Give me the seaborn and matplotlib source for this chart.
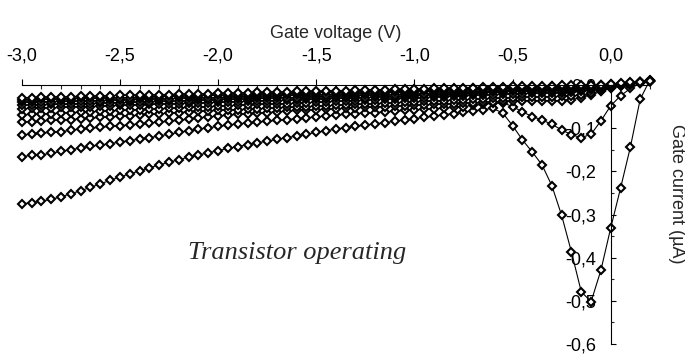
import matplotlib
matplotlib.use("Agg")
import matplotlib.pyplot as plt
import numpy as np
import pandas as pd
import seaborn as sns
from matplotlib.ticker import MultipleLocator, FuncFormatter

# gate voltage sweep (V), one marker every 0.05 V
v_gate = [-3.00, -2.95, -2.90, -2.85, -2.80, -2.75, -2.70, -2.65, -2.60, -2.55,
          -2.50, -2.45, -2.40, -2.35, -2.30, -2.25, -2.20, -2.15, -2.10, -2.05,
          -2.00, -1.95, -1.90, -1.85, -1.80, -1.75, -1.70, -1.65, -1.60, -1.55,
          -1.50, -1.45, -1.40, -1.35, -1.30, -1.25, -1.20, -1.15, -1.10, -1.05,
          -1.00, -0.95, -0.90, -0.85, -0.80, -0.75, -0.70, -0.65, -0.60, -0.55,
          -0.50, -0.45, -0.40, -0.35, -0.30, -0.25, -0.20, -0.15, -0.10, -0.05,
          0.00, 0.05, 0.10, 0.15, 0.20]

# gate current (uA), lowest curve first
ig_a = [-0.275, -0.273, -0.269, -0.265, -0.259, -0.252, -0.245, -0.237, -0.229, -0.221,
        -0.213, -0.206, -0.199, -0.192, -0.185, -0.179, -0.173, -0.167, -0.162, -0.157,
        -0.152, -0.147, -0.143, -0.138, -0.134, -0.130, -0.126, -0.122, -0.118, -0.114,
        -0.110, -0.106, -0.102, -0.099, -0.096, -0.093, -0.090, -0.087, -0.084, -0.081,
        -0.078, -0.075, -0.072, -0.069, -0.066, -0.063, -0.060, -0.057, -0.054, -0.065,
        -0.094, -0.127, -0.155, -0.185, -0.233, -0.302, -0.387, -0.479, -0.502, -0.429,
        -0.331, -0.239, -0.144, -0.033, 0.012]
ig_b = [-0.166, -0.163, -0.162, -0.158, -0.154, -0.150, -0.146, -0.142, -0.139, -0.136,
        -0.132, -0.129, -0.125, -0.122, -0.118, -0.114, -0.110, -0.106, -0.102, -0.099,
        -0.096, -0.093, -0.090, -0.088, -0.086, -0.084, -0.082, -0.080, -0.078, -0.076,
        -0.074, -0.072, -0.070, -0.068, -0.066, -0.065, -0.064, -0.062, -0.061, -0.059,
        -0.058, -0.056, -0.055, -0.053, -0.052, -0.050, -0.047, -0.045, -0.042, -0.041,
        -0.050, -0.062, -0.073, -0.081, -0.091, -0.104, -0.115, -0.122, -0.114, -0.083,
        -0.048, -0.025, -0.008, 0.004, 0.010]
ig_c = [-0.115, -0.114, -0.112, -0.109, -0.108, -0.105, -0.102, -0.100, -0.098, -0.096,
        -0.094, -0.092, -0.090, -0.088, -0.086, -0.084, -0.082, -0.079, -0.076, -0.074,
        -0.072, -0.070, -0.068, -0.067, -0.065, -0.064, -0.062, -0.061, -0.059, -0.058,
        -0.057, -0.056, -0.055, -0.054, -0.053, -0.052, -0.051, -0.050, -0.049, -0.048,
        -0.047, -0.046, -0.045, -0.044, -0.043, -0.042, -0.041, -0.040, -0.039, -0.038,
        -0.037, -0.036, -0.036, -0.036, -0.036, -0.036, -0.034, -0.029, -0.023, -0.015,
        -0.007, -0.001, 0.004, 0.007, 0.010]
ig_d = [-0.086, -0.085, -0.084, -0.082, -0.081, -0.080, -0.078, -0.077, -0.075, -0.074,
        -0.072, -0.071, -0.070, -0.068, -0.067, -0.065, -0.064, -0.062, -0.061, -0.060,
        -0.059, -0.058, -0.057, -0.056, -0.055, -0.054, -0.053, -0.052, -0.051, -0.050,
        -0.049, -0.048, -0.047, -0.046, -0.045, -0.044, -0.043, -0.042, -0.041, -0.040,
        -0.039, -0.038, -0.037, -0.036, -0.035, -0.034, -0.033, -0.032, -0.031, -0.030,
        -0.029, -0.028, -0.028, -0.027, -0.027, -0.026, -0.025, -0.023, -0.019, -0.014,
        -0.008, -0.003, 0.001, 0.005, 0.009]
ig_e = [-0.069, -0.068, -0.067, -0.066, -0.065, -0.064, -0.063, -0.062, -0.061, -0.060,
        -0.059, -0.058, -0.057, -0.056, -0.055, -0.054, -0.053, -0.052, -0.051, -0.050,
        -0.049, -0.048, -0.047, -0.046, -0.045, -0.044, -0.044, -0.043, -0.042, -0.041,
        -0.040, -0.039, -0.038, -0.037, -0.036, -0.035, -0.034, -0.033, -0.032, -0.031,
        -0.030, -0.029, -0.028, -0.027, -0.026, -0.025, -0.024, -0.023, -0.022, -0.021,
        -0.020, -0.020, -0.019, -0.019, -0.018, -0.018, -0.017, -0.015, -0.012, -0.009,
        -0.005, -0.001, 0.002, 0.005, 0.009]
ig_f = [-0.055, -0.054, -0.053, -0.053, -0.052, -0.051, -0.050, -0.050, -0.049, -0.048,
        -0.047, -0.047, -0.046, -0.045, -0.044, -0.044, -0.043, -0.042, -0.042, -0.041,
        -0.040, -0.039, -0.039, -0.038, -0.037, -0.036, -0.036, -0.035, -0.034, -0.033,
        -0.033, -0.032, -0.031, -0.030, -0.030, -0.029, -0.028, -0.027, -0.027, -0.026,
        -0.025, -0.024, -0.023, -0.022, -0.021, -0.020, -0.019, -0.018, -0.017, -0.016,
        -0.015, -0.015, -0.014, -0.014, -0.013, -0.013, -0.012, -0.011, -0.009, -0.006,
        -0.003, 0.000, 0.003, 0.006, 0.009]
ig_g = [-0.047, -0.046, -0.046, -0.045, -0.045, -0.044, -0.043, -0.043, -0.042, -0.041,
        -0.041, -0.040, -0.039, -0.039, -0.038, -0.037, -0.037, -0.036, -0.035, -0.035,
        -0.034, -0.033, -0.033, -0.032, -0.031, -0.031, -0.030, -0.029, -0.029, -0.028,
        -0.027, -0.027, -0.026, -0.025, -0.025, -0.024, -0.023, -0.023, -0.022, -0.021,
        -0.021, -0.020, -0.019, -0.018, -0.018, -0.017, -0.016, -0.015, -0.014, -0.013,
        -0.012, -0.012, -0.011, -0.011, -0.010, -0.010, -0.009, -0.008, -0.006, -0.004,
        -0.002, 0.001, 0.003, 0.006, 0.009]
ig_h = [-0.040, -0.040, -0.039, -0.039, -0.038, -0.038, -0.037, -0.036, -0.036, -0.035,
        -0.035, -0.034, -0.033, -0.033, -0.032, -0.032, -0.031, -0.030, -0.030, -0.029,
        -0.029, -0.028, -0.027, -0.027, -0.026, -0.026, -0.025, -0.024, -0.024, -0.023,
        -0.023, -0.022, -0.021, -0.021, -0.020, -0.019, -0.019, -0.018, -0.017, -0.017,
        -0.016, -0.015, -0.015, -0.014, -0.013, -0.012, -0.011, -0.010, -0.009, -0.009,
        -0.008, -0.008, -0.007, -0.007, -0.006, -0.006, -0.005, -0.004, -0.003, -0.001,
        0.001, 0.003, 0.005, 0.007, 0.010]
ig_i = [-0.034, -0.034, -0.033, -0.033, -0.032, -0.032, -0.031, -0.031, -0.030, -0.030,
        -0.029, -0.029, -0.028, -0.027, -0.027, -0.026, -0.026, -0.025, -0.025, -0.024,
        -0.024, -0.023, -0.023, -0.022, -0.021, -0.021, -0.020, -0.020, -0.019, -0.019,
        -0.018, -0.017, -0.017, -0.016, -0.016, -0.015, -0.014, -0.014, -0.013, -0.013,
        -0.012, -0.011, -0.011, -0.010, -0.009, -0.009, -0.008, -0.007, -0.006, -0.006,
        -0.005, -0.005, -0.004, -0.004, -0.003, -0.003, -0.002, -0.002, -0.001, 0.000,
        0.002, 0.003, 0.005, 0.007, 0.010]
ig_j = [-0.029, -0.029, -0.028, -0.028, -0.027, -0.027, -0.026, -0.026, -0.025, -0.025,
        -0.024, -0.024, -0.023, -0.023, -0.022, -0.022, -0.021, -0.021, -0.020, -0.020,
        -0.019, -0.019, -0.018, -0.018, -0.017, -0.017, -0.016, -0.016, -0.015, -0.015,
        -0.014, -0.014, -0.013, -0.013, -0.012, -0.012, -0.011, -0.011, -0.010, -0.010,
        -0.009, -0.009, -0.008, -0.008, -0.007, -0.006, -0.006, -0.005, -0.004, -0.004,
        -0.003, -0.003, -0.002, -0.002, -0.002, -0.001, -0.001, 0.000, 0.000, 0.001,
        0.002, 0.004, 0.006, 0.008, 0.010]

curves = [ig_a, ig_b, ig_c, ig_d, ig_e, ig_f, ig_g, ig_h, ig_i, ig_j]

x_ticks_major = 0.5
y_ticks_major = 0.1


def comma(v, pos):
    if abs(v) < 1e-9:
        v = 0.0
    return f"{v:.1f}".replace(".", ",")


sns.set_style("ticks")
plt.rcParams['font.family'] = ['Liberation Sans', 'DejaVu Sans']

fig = plt.figure(figsize=(6.85, 3.56), dpi=100)
ax = fig.add_axes([0.0317, 0.0337, 0.9172, 0.7275])

for ig in curves:
    sns.lineplot(x=v_gate, y=ig, ax=ax, color='black', linewidth=0.8,
                 marker='D', markersize=4.2, markerfacecolor='white',
                 markeredgecolor='black', markeredgewidth=1.5,
                 estimator=None, sort=False, clip_on=False)

ax.set_xlim(-3.0, 0.2)
ax.set_ylim(-0.6, 0.0)
ax.set_axisbelow(True)

ax.spines['bottom'].set_visible(False)
ax.spines['right'].set_visible(False)
ax.spines['left'].set_position(('data', 0.0))
for s in ['top', 'left']:
    ax.spines[s].set_linewidth(0.8)
    ax.spines[s].set_color('black')

ax.xaxis.tick_top()
ax.xaxis.set_label_position('top')
ax.xaxis.set_major_locator(MultipleLocator(x_ticks_major))
ax.xaxis.set_minor_locator(MultipleLocator(0.1))
ax.yaxis.set_major_locator(MultipleLocator(y_ticks_major))
ax.yaxis.set_minor_locator(MultipleLocator(0.05))
ax.xaxis.set_major_formatter(FuncFormatter(comma))
ax.yaxis.set_major_formatter(FuncFormatter(comma))

ax.tick_params(axis='x', which='major', direction='out', length=4.3, width=0.8,
               pad=10.5, labelsize=13, colors='black')
ax.tick_params(axis='x', which='minor', direction='in', length=3.2, width=0.8)
ax.tick_params(axis='y', which='major', direction='in', length=3.6, width=0.8,
               pad=10.5, labelsize=13, colors='black')
ax.tick_params(axis='y', which='minor', direction='in', length=2.4, width=0.8)

ax.set_xlabel("Gate voltage (V)", fontsize=13, labelpad=7)
ax.set_ylabel("")
fig.text(0.988, 0.455, "Gate current (µA)", rotation=270, fontsize=13,
         ha='center', va='center')

ax.text(-2.153, -0.404, "Transistor operating", fontsize=19, style='italic',
        family=['Liberation Serif', 'DejaVu Serif'], ha='left', va='baseline')

plt.savefig('out.png', dpi=100)
